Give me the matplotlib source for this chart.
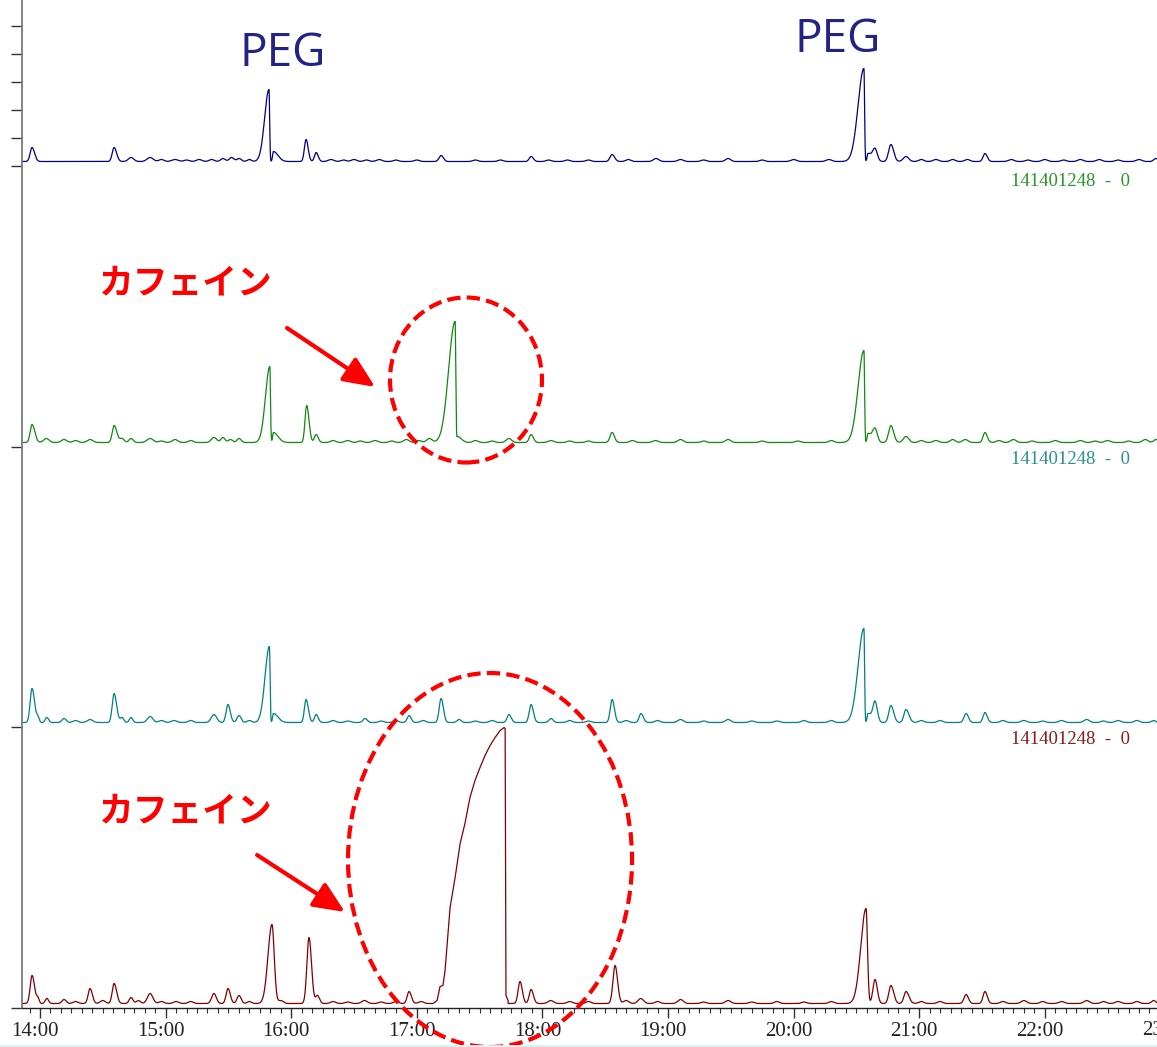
import numpy as np
import matplotlib
matplotlib.use("Agg")
import matplotlib.pyplot as plt
from matplotlib.patches import Ellipse
from matplotlib.lines import Line2D
from matplotlib.ticker import MultipleLocator, FuncFormatter
from matplotlib.transforms import ScaledTranslation

# peaks: (minutes after 14:00, height, left width, right width)
navy_peaks = [(-3.8, 14, 0.9, 1.2), (35.4, 14, 0.9, 1.2), (43.5, 4, 1.3, 1.3),
              (52.6, 4, 1.5, 1.5), (58.0, 2, 1.2, 1.2), (64.5, 2, 1.5, 1.5),
              (70.0, 1.5, 1.2, 1.2), (76.0, 2, 1.3, 1.3), (82.0, 2, 1.2, 1.2),
              (87.4, 3, 1.1, 1.1), (91.5, 4, 1.1, 1.1), (95.1, 3, 1.1, 1.1),
              (100.0, 2, 1.0, 1.0), (109.4, 72, 2.1, 0.3), (111.5, 10, 0.4, 2.2),
              (127.1, 22, 0.8, 1.0), (131.9, 9, 0.8, 1.0), (139.0, 2, 1.3, 1.3),
              (145.0, 1.5, 1.2, 1.2), (150.0, 2, 1.3, 1.3), (156.0, 1.5, 1.2, 1.2),
              (162.0, 2, 1.3, 1.3), (170.0, 1.5, 1.2, 1.2), (180.0, 1.5, 1.2, 1.2),
              (191.6, 6, 1.0, 1.1), (208.0, 1.5, 1.2, 1.2), (220.0, 1.5, 1.2, 1.2),
              (234.6, 5, 0.9, 1.1), (243.0, 1.5, 1.2, 1.2), (252.0, 1.5, 1.2, 1.2),
              (262.0, 1.5, 1.2, 1.2), (273.3, 7, 1.0, 1.2), (281.0, 2, 1.2, 1.2),
              (294.3, 3, 1.3, 1.3), (306.0, 2, 1.3, 1.3), (317.0, 1.5, 1.2, 1.2),
              (328.7, 3, 1.2, 1.2), (345.0, 1.5, 1.2, 1.2), (360.0, 2, 1.3, 1.3),
              (376.9, 2, 1.3, 1.3), (393.6, 93, 2.8, 0.3), (395.5, 8, 0.4, 1.8),
              (398.9, 12, 1.1, 1.1), (406.5, 17, 1.1, 1.3), (413.7, 5, 1.3, 1.3),
              (421.0, 2, 1.2, 1.2), (428.0, 2, 1.3, 1.3), (436.0, 2, 1.2, 1.2),
              (443.0, 2, 1.2, 1.2), (451.4, 8, 0.9, 1.1), (464.0, 2, 1.3, 1.3),
              (472.0, 1.5, 1.2, 1.2), (480.0, 2, 1.3, 1.3), (489.0, 1.5, 1.2, 1.2),
              (497.0, 2, 1.3, 1.3), (506.0, 2, 1.3, 1.3), (515.0, 1.5, 1.2, 1.2),
              (525.0, 2, 1.3, 1.3), (533.0, 3, 1.0, 1.0)]

green_peaks = [(-3.8, 18, 0.9, 1.3), (3.0, 4, 1.3, 1.3), (11.5, 3, 1.3, 1.3),
               (17.0, 2, 1.2, 1.2), (23.9, 3, 1.3, 1.3), (35.4, 17, 0.9, 1.3),
               (39.2, 4, 1.0, 1.0), (43.5, 4, 1.0, 1.0), (52.6, 4, 1.5, 1.5),
               (58.0, 1.5, 1.2, 1.2), (64.5, 3, 1.3, 1.3), (72.0, 2, 1.2, 1.2),
               (83.1, 5, 1.3, 1.3), (87.4, 5, 1.0, 1.0), (91.0, 3, 1.0, 1.0),
               (95.1, 4, 1.0, 1.0), (109.8, 76, 2.1, 0.3), (111.5, 10, 0.4, 2.2),
               (127.4, 37, 0.8, 1.1), (131.9, 8, 0.8, 1.0), (140.0, 2, 1.2, 1.2),
               (147.0, 2, 1.3, 1.3), (153.0, 1.5, 1.2, 1.2), (160.0, 2, 1.3, 1.3),
               (168.0, 1.5, 1.2, 1.2), (175.0, 3, 1.3, 1.3), (181.0, 2, 1.2, 1.2),
               (186.0, 4, 1.3, 1.3), (198.3, 121, 3.1, 0.3), (199.5, 6, 0.4, 1.8),
               (208.0, 2, 1.2, 1.2), (216.0, 1.5, 1.2, 1.2), (224.0, 4, 1.3, 1.3),
               (234.6, 8, 0.9, 1.1), (244.0, 2, 1.3, 1.3), (253.0, 1.5, 1.2, 1.2),
               (262.0, 1.5, 1.2, 1.2), (273.3, 10, 1.0, 1.1), (283.0, 2, 1.2, 1.2),
               (294.0, 2, 1.3, 1.3), (306.0, 3, 1.3, 1.3), (317.0, 1.5, 1.2, 1.2),
               (328.7, 3, 1.3, 1.3), (345.0, 1.5, 1.2, 1.2), (362.0, 1.5, 1.2, 1.2),
               (378.0, 2, 1.2, 1.2), (393.6, 92, 2.8, 0.3), (395.5, 9, 0.4, 1.8),
               (398.9, 13, 1.1, 1.1), (406.5, 17, 1.1, 1.3), (413.7, 6, 1.3, 1.3),
               (421.0, 2, 1.2, 1.2), (428.0, 2, 1.3, 1.3), (436.0, 3, 1.2, 1.2),
               (442.0, 3, 1.3, 1.3), (451.4, 10, 0.9, 1.1), (458.0, 2, 1.2, 1.2),
               (465.0, 3, 1.3, 1.3), (474.0, 1.5, 1.2, 1.2), (485.0, 2, 1.3, 1.3),
               (497.0, 2, 1.3, 1.3), (504.0, 1.5, 1.2, 1.2), (510.0, 2, 1.3, 1.3),
               (520.0, 1.5, 1.2, 1.2), (528.0, 3, 1.3, 1.3), (533.0, 3, 1.0, 1.0)]

teal_peaks = [(-3.8, 34, 0.9, 1.2), (-1.0, 5, 0.6, 0.6), (3.3, 5, 0.8, 0.8),
              (11.5, 4, 1.0, 1.0), (17.0, 2, 1.2, 1.2), (23.9, 3, 1.3, 1.3),
              (35.4, 29, 0.9, 1.2), (39.2, 5, 0.8, 0.8), (43.5, 5, 0.8, 0.8),
              (52.6, 6, 1.3, 1.3), (58.0, 2, 1.2, 1.2), (64.0, 2, 1.3, 1.3),
              (72.0, 2, 1.2, 1.2), (83.1, 8, 1.3, 1.3), (89.8, 18, 0.9, 1.1),
              (95.1, 7, 1.0, 1.0), (100.0, 2, 1.0, 1.0), (109.6, 76, 2.1, 0.3),
              (111.5, 9, 0.4, 2.2), (127.1, 23, 0.8, 1.1), (131.9, 8, 0.8, 1.0),
              (140.0, 2, 1.2, 1.2), (147.0, 1.5, 1.2, 1.2), (155.3, 4, 1.0, 1.0),
              (163.0, 1.5, 1.2, 1.2), (170.0, 2, 1.2, 1.2), (176.3, 7, 0.9, 1.0),
              (183.0, 2, 1.2, 1.2), (191.6, 24, 0.9, 1.1), (200.2, 3, 1.0, 1.0),
              (208.0, 1.5, 1.2, 1.2), (216.0, 2, 1.2, 1.2), (224.0, 8, 0.9, 1.1),
              (234.6, 18, 0.9, 1.1), (244.1, 4, 1.0, 1.0), (253.0, 2, 1.2, 1.2),
              (262.0, 1.5, 1.2, 1.2), (273.3, 23, 0.9, 1.1), (280.0, 2, 1.2, 1.2),
              (287.1, 9, 0.9, 1.1), (295.0, 2, 1.2, 1.2), (306.0, 3, 1.3, 1.3),
              (317.0, 1.5, 1.2, 1.2), (328.7, 3, 1.3, 1.3), (340.0, 1.5, 1.2, 1.2),
              (352.0, 1.5, 1.2, 1.2), (365.0, 2, 1.2, 1.2), (378.0, 2, 1.2, 1.2),
              (393.6, 94, 2.8, 0.3), (395.5, 9, 0.4, 1.8), (398.9, 20, 1.0, 1.1),
              (406.5, 17, 1.0, 1.3), (413.7, 13, 1.0, 1.4), (421.0, 2, 1.2, 1.2),
              (430.0, 2, 1.2, 1.2), (442.4, 9, 1.0, 1.1), (451.4, 10, 0.9, 1.1),
              (460.0, 2, 1.2, 1.2), (470.0, 2, 1.3, 1.3), (479.0, 1.5, 1.2, 1.2),
              (488.0, 2, 1.3, 1.3), (500.0, 3, 1.3, 1.3), (508.0, 1.5, 1.2, 1.2),
              (515.0, 2, 1.3, 1.3), (524.0, 2, 1.2, 1.2), (532.0, 2, 1.0, 1.0)]

red_peaks = [(-3.8, 28, 0.9, 1.2), (-1.0, 5, 0.6, 0.6), (3.3, 5, 0.8, 0.8),
             (11.5, 4, 1.0, 1.0), (17.0, 2, 1.2, 1.2), (23.9, 15, 0.9, 1.1),
             (30.0, 3, 1.2, 1.2), (35.4, 20, 0.9, 1.2), (43.5, 6, 0.9, 0.9),
             (47.0, 3, 1.0, 1.0), (52.6, 10, 1.3, 1.3), (58.0, 2, 1.2, 1.2),
             (65.0, 2, 1.2, 1.2), (72.0, 2, 1.2, 1.2), (83.1, 10, 1.1, 1.1),
             (89.8, 15, 0.9, 1.1), (95.1, 8, 1.0, 1.0), (100.0, 2, 1.0, 1.0),
             (110.8, 79, 1.9, 1.1), (115.0, 3, 1.2, 1.2), (128.5, 66, 1.0, 1.2),
             (132.5, 8, 0.8, 1.0), (140.0, 2, 1.2, 1.2), (147.0, 1.5, 1.2, 1.2),
             (155.0, 3, 1.3, 1.3), (163.0, 1.5, 1.2, 1.2), (170.0, 2, 1.2, 1.2),
             (176.3, 12, 0.9, 1.1), (182.0, 2, 1.2, 1.2), (229.3, 22, 0.9, 1.1),
             (234.6, 14, 0.9, 1.1), (244.0, 3, 1.3, 1.3), (253.0, 2, 1.2, 1.2),
             (262.0, 2, 1.2, 1.2), (274.7, 38, 1.0, 1.2), (280.0, 3, 1.2, 1.2),
             (287.0, 5, 1.3, 1.3), (295.0, 2, 1.2, 1.2), (306.0, 4, 1.3, 1.3),
             (317.0, 1.5, 1.2, 1.2), (328.7, 3, 1.3, 1.3), (340.0, 1.5, 1.2, 1.2),
             (352.0, 2, 1.2, 1.2), (365.0, 1.5, 1.2, 1.2), (378.0, 2, 1.2, 1.2),
             (394.6, 95, 2.5, 0.7), (398.9, 24, 1.0, 1.1), (406.5, 18, 1.0, 1.3),
             (413.7, 12, 1.0, 1.4), (421.0, 2, 1.2, 1.2), (430.0, 2, 1.2, 1.2),
             (442.4, 9, 1.0, 1.1), (451.4, 12, 0.9, 1.1), (460.0, 2, 1.2, 1.2),
             (470.0, 3, 1.3, 1.3), (479.0, 2, 1.2, 1.2), (488.0, 2, 1.3, 1.3),
             (500.0, 3, 1.3, 1.3), (508.0, 2, 1.2, 1.2), (515.0, 2, 1.3, 1.3),
             (524.0, 2, 1.2, 1.2), (532.0, 3, 1.0, 1.0)]

# overloaded caffeine peak on the bottom trace, read point by point
red_over_m = [187.7, 189.7, 191.1, 192.5, 193.5, 195.9, 198.3, 200.7, 203.0, 205.4,
              207.8, 210.2, 212.6, 215.0, 217.4, 219.8, 221.7, 222.2, 222.6, 223.6]
red_over_h = [0, 3, 17, 18, 33, 96, 126, 160, 180, 206,
              223, 236, 248, 258, 266, 273, 276, 275, 8, 3]

channel_label = "141401248  -  0"


def build(peaks, m):
    y = np.zeros_like(m)
    for rt, h, wl, wr in peaks:
        w = np.where(m < rt, wl, wr)
        y += h * np.exp(-0.5 * ((m - rt) / w) ** 2)
    return y


m = np.linspace(-9, 534, 12000)

fig = plt.figure(figsize=(11.57, 10.47), dpi=100)
ax = fig.add_axes([22 / 1157, 39 / 1047, 1 - 22 / 1157, 1008 / 1047])

ticks = [0, 281, 561, 842]
base = 4.5

yr = build(red_peaks, m)
lo = m < red_over_m[0]
hi = m > red_over_m[-1]
red_m = np.concatenate([m[lo], red_over_m, m[hi]])
red_y = np.concatenate([yr[lo], red_over_h, yr[hi]])

ax.plot(m, ticks[3] + base + build(navy_peaks, m), color="#000080", lw=0.9)
ax.plot(m, ticks[2] + base + build(green_peaks, m), color="#118811", lw=0.9)
ax.plot(m, ticks[1] + base + build(teal_peaks, m), color="#008080", lw=0.9)
ax.plot(red_m, ticks[0] + base + red_y, color="#800000", lw=0.9)

ax.set_xlim(-8.6, 533.6)
ax.set_ylim(0, 1008)

for s in ["top", "right"]:
    ax.spines[s].set_visible(False)
ax.spines["left"].set_color("#7a7a7a")
ax.spines["left"].set_linewidth(1.3)
ax.spines["bottom"].set_color("#222222")
ax.spines["bottom"].set_linewidth(1.0)

ax.set_yticks(ticks)
ax.set_yticks([842 + 28.1 * k for k in range(1, 6)], minor=True)
ax.tick_params(axis="y", which="both", length=8, width=1.0, color="#333333",
               labelleft=False)

ax.xaxis.set_major_locator(MultipleLocator(60))
ax.xaxis.set_minor_locator(MultipleLocator(5))
ax.xaxis.set_major_formatter(FuncFormatter(lambda v, p: "%d:00" % (14 + int(round(v / 60)))))
ax.tick_params(axis="x", which="major", length=7, width=1.0, color="#333333", pad=3,
               labelsize=15, labelcolor="#222222")
ax.tick_params(axis="x", which="minor", length=3.6, width=0.8, color="#333333")
shift = ScaledTranslation(-0.05, 0, fig.dpi_scale_trans)
for lab in ax.get_xticklabels():
    lab.set_fontfamily("Liberation Serif")
    lab.set_transform(lab.get_transform() + shift)
# the 23:00 label sits past the right edge in the original, only "23" shows
ax.text(540, -0.013, "23:00", transform=ax.get_xaxis_transform() + shift,
        ha="center", va="top", fontsize=15, family="Liberation Serif",
        color="#222222", clip_on=False)

# channel labels
ax.text(520.7, 827, channel_label, color="#2a962a", fontsize=13.5,
        family="Liberation Serif", ha="right", va="center")
ax.text(520.7, 548, channel_label, color="#2a9090", fontsize=13.5,
        family="Liberation Serif", ha="right", va="center")
ax.text(520.7, 268, channel_label, color="#8b1a1a", fontsize=13.5,
        family="Liberation Serif", ha="right", va="center")

# annotations
peg_color = "#232386"
ax.text(116.1, 954, "PEG", color=peg_color, fontsize=33, family="Open Sans",
        ha="center", va="center")
ax.text(381.0, 968, "PEG", color=peg_color, fontsize=33, family="Open Sans",
        ha="center", va="center")

red = "#ff0000"
for ty in [725, 197]:
    ax.text(69.3, ty, "カフェイン", color=red, fontsize=25, fontweight="bold",
            family=["Noto Sans CJK JP", "DejaVu Sans"], ha="center", va="center")

arrow = dict(arrowstyle="-|>,head_length=0.95,head_width=0.42", color=red, lw=3,
             mutation_scale=20, shrinkA=0, shrinkB=0)
ax.annotate("", xy=(160.1, 621), xytext=(118.0, 680), arrowprops=arrow)
ax.annotate("", xy=(145.7, 96), xytext=(103.7, 153), arrowprops=arrow,
            annotation_clip=False)

for cx, cy, w, h in [(203.5, 628, 72.6, 165), (215.0, 148, 135.7, 374)]:
    e = Ellipse((cx, cy), w, h, fill=False, edgecolor=red, lw=3,
                linestyle=(0, (3.2, 1.5)), clip_on=False, zorder=5)
    ax.add_patch(e)

fig.add_artist(Line2D([0, 1], [1.5 / 1047, 1.5 / 1047], transform=fig.transFigure,
                      color="#dcf2f2", lw=2))

fig.savefig("out.png", dpi=100)
